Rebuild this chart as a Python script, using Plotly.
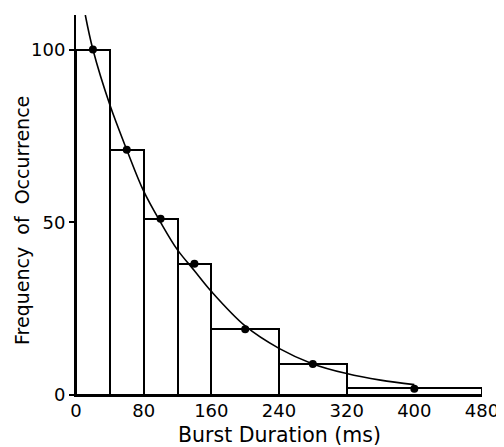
import plotly.graph_objects as go

# Histogram bins (ms) and heights
bin_left = [0, 40, 80, 120, 160, 240, 320]
bin_right = [40, 80, 120, 160, 240, 320, 480]
bin_height = [100, 71, 51, 38, 19, 9, 2]

# Data points (bin centres)
pt_x = [20, 60, 100, 140, 200, 280, 400]
pt_y = [100, 71, 51, 38, 19, 9, 1.8]

# Fitted curve
curve_x = [11, 20, 40, 60, 80, 100, 120, 140, 160, 200, 240, 280, 320, 360, 400]
curve_y = [110, 100, 84, 71, 59, 50, 42, 36, 30, 20, 13.5, 9, 6.2, 4.3, 3]

x_ticks = [0, 80, 160, 240, 320, 400, 480]
y_ticks = [0, 50, 100]

centers = [(a + b) / 2 for a, b in zip(bin_left, bin_right)]
widths = [b - a for a, b in zip(bin_left, bin_right)]

FONT = "DejaVu Sans"

fig = go.Figure()
fig.add_trace(go.Bar(
    x=centers, y=bin_height, width=widths,
    marker=dict(color="white", line=dict(color="black", width=2)),
    hoverinfo="skip",
))
fig.add_trace(go.Scatter(
    x=curve_x, y=curve_y, mode="lines", line=dict(color="black", width=1.6, shape="spline"),
))
fig.add_trace(go.Scatter(
    x=pt_x, y=pt_y, mode="markers", marker=dict(color="black", size=8),
))

fig.update_layout(
    width=496, height=439,
    margin=dict(l=68, r=22, t=7, b=52),
    paper_bgcolor="white", plot_bgcolor="white",
    showlegend=False,
    bargap=0,
    font=dict(family=FONT, color="black", size=16),
    xaxis=dict(
        range=[0, 480], tickvals=x_ticks, ticktext=[str(v) for v in x_ticks],
        showgrid=False, zeroline=False, showline=True, linecolor="black", linewidth=2,
        ticks="", tickfont=dict(size=18, family=FONT), ticklabelstandoff=-2,
        automargin=False,
    ),
    yaxis=dict(
        range=[0, 110], tickvals=y_ticks, ticktext=[str(v) for v in y_ticks],
        showgrid=False, zeroline=False, showline=True, linecolor="black", linewidth=2,
        ticks="outside", ticklen=5, tickwidth=2, tickcolor="black",
        tickfont=dict(size=18, family=FONT), automargin=False,
    ),
    annotations=[
        dict(text="Burst Duration (ms)", xref="paper", yref="paper", x=0.501, y=-0.106,
             xanchor="center", yanchor="middle", showarrow=False,
             font=dict(size=20.5, family=FONT, color="black")),
        dict(text="Frequency  of  Occurrence", xref="paper", yref="paper", x=0, y=0.458,
             xshift=-54, xanchor="center", yanchor="middle", textangle=-90, showarrow=False,
             font=dict(size=19, family=FONT, color="black")),
    ],
)

fig.write_html("out.html")
